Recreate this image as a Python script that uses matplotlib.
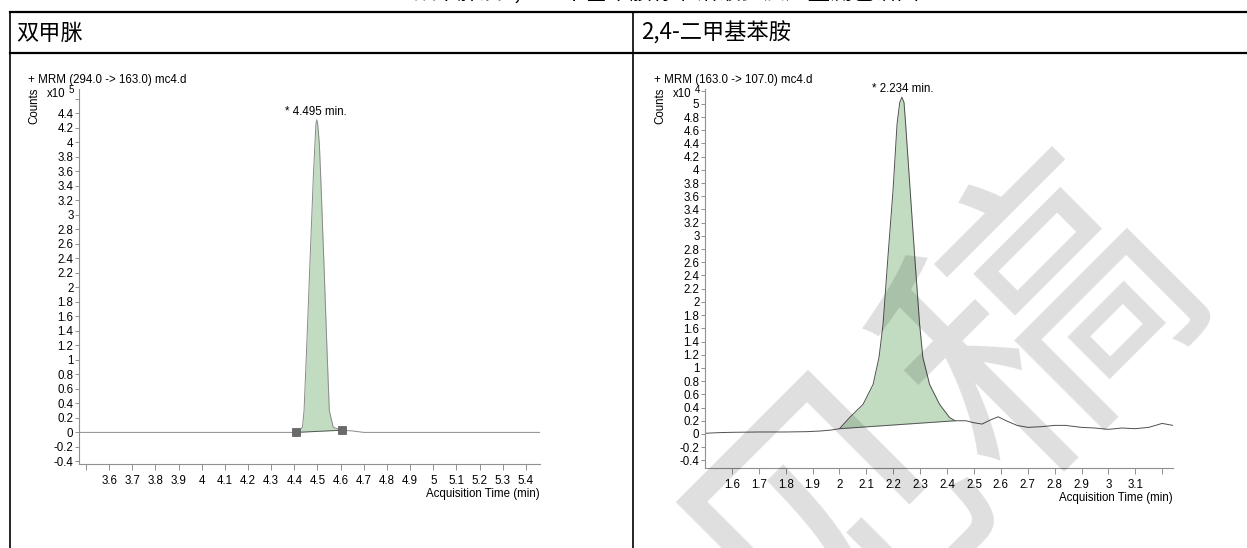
import numpy as np
import matplotlib
matplotlib.use('Agg')
import matplotlib.pyplot as plt
from matplotlib.lines import Line2D

plt.rcParams['font.family'] = ['Liberation Sans', 'DejaVu Sans']

W, H = 1247, 548
FS = 8.3

# ---- data ----
# 双甲脒, MRM 294.0 -> 163.0, counts in x10^5
left_time = [3.47, 4.30, 4.408, 4.435, 4.442, 4.454, 4.465, 4.482, 4.489, 4.493,
             4.497, 4.501, 4.508, 4.514, 4.530, 4.540, 4.551, 4.568, 4.605, 4.65,
             4.70, 5.46]
left_counts = [0.0, 0.0, 0.0, 0.07, 0.30, 1.23, 2.14, 3.52, 3.98, 4.25,
               4.31, 4.25, 3.98, 3.52, 2.14, 1.23, 0.30, 0.07, 0.03, 0.02,
               0.0, 0.0]
left_base_t = [4.408, 4.605]
left_base_c = [0.0, 0.03]
left_rt = 4.495

# 2,4-二甲基苯胺, MRM 163.0 -> 107.0, counts in x10^4
right_time = [1.50, 1.55, 1.60, 1.70, 1.80, 1.88, 1.93, 1.97, 2.00, 2.038,
              2.088, 2.125, 2.147, 2.162, 2.180, 2.199, 2.214, 2.224, 2.232, 2.240,
              2.246, 2.263, 2.280, 2.298, 2.310, 2.335, 2.372, 2.409, 2.43, 2.47,
              2.50, 2.53, 2.56, 2.59, 2.62, 2.66, 2.70, 2.75, 2.80, 2.84,
              2.90, 2.95, 3.00, 3.05, 3.10, 3.15, 3.20, 3.239]
right_counts = [0.01, 0.02, 0.025, 0.03, 0.03, 0.035, 0.045, 0.06, 0.08, 0.25,
                0.45, 0.75, 1.16, 1.66, 2.67, 3.68, 4.69, 5.02, 5.10, 5.02,
                4.69, 3.68, 2.67, 1.66, 1.16, 0.75, 0.45, 0.25, 0.20, 0.20,
                0.17, 0.15, 0.21, 0.26, 0.20, 0.13, 0.10, 0.11, 0.13, 0.13,
                0.10, 0.09, 0.07, 0.09, 0.08, 0.10, 0.16, 0.13]
right_base_t = [2.00, 2.43]
right_base_c = [0.08, 0.20]
right_rt = 2.234

left_xticks = [round(3.5 + 0.1 * i, 1) for i in range(20)]
left_xlabels = [''] + ['%g' % v for v in left_xticks[1:]]
left_yticks = [round(-0.4 + 0.2 * i, 1) for i in range(26)]
left_ylabels = ['%g' % v for v in left_yticks[:-1]] + ['']

right_xticks = [round(1.6 + 0.1 * i, 1) for i in range(17)]
right_xlabels = ['%g' % v for v in right_xticks[:-1]] + ['']
right_yticks = [round(-0.4 + 0.2 * i, 1) for i in range(29)]
right_ylabels = ['%g' % v for v in right_yticks[:-1]] + ['']

fig = plt.figure(figsize=(W / 100, H / 100), dpi=100)


def fx(px):
    return px / W


def fy(py):
    return 1 - py / H


def chromatogram(box, t, c, bt, bc, rt, xlim, ylim, xt, xl, yt, yl,
                 title, expo, line_col, markers):
    x0, y0, x1, y1 = box
    ax = fig.add_axes([fx(x0), fy(y1), fx(x1 - x0), (y1 - y0) / H])
    t = np.array(t)
    c = np.array(c)
    m = (t >= bt[0]) & (t <= bt[1])
    base = np.interp(t[m], bt, bc)
    ax.fill_between(t[m], c[m], base, color='#c2dcc2', lw=0, zorder=1)
    ax.plot(t, c, color=line_col, lw=0.7, zorder=2)
    ax.plot(bt, bc, color='#555555', lw=0.7, zorder=2)
    if markers:
        ax.plot(bt, bc, ls='none', marker='s', ms=6, mfc='#6a6a6a',
                mec='#555555', mew=0.5, zorder=3)
    apex = c.max()
    ax.annotate('* %.3f min.' % rt, (rt, apex), xytext=(0, 1.5),
                textcoords='offset points', ha='center', va='bottom',
                fontsize=FS)
    ax.set_xlim(xlim)
    ax.set_ylim(ylim)
    ax.set_xticks(xt)
    ax.set_xticklabels(xl)
    ax.set_yticks(yt)
    ax.set_yticklabels(yl)
    for s in ['top', 'right']:
        ax.spines[s].set_visible(False)
    for s in ['left', 'bottom']:
        ax.spines[s].set_color('#909090')
        ax.spines[s].set_linewidth(0.8)
    ax.tick_params(axis='both', colors='#909090', labelcolor='black',
                   labelsize=FS, width=0.7)
    ax.tick_params(axis='y', length=3, pad=1)
    ax.tick_params(axis='x', length=4, pad=3.5)
    ax.patch.set_alpha(0)
    ax.text(1.0, -0.062, 'Acquisition Time (min)', transform=ax.transAxes,
            ha='right', va='top', fontsize=FS)
    # header texts
    fig.text(fx(x0 - 51), fy(y0 - 9), title, fontsize=FS, va='center')
    fig.text(fx(x0 - 45), fy(y0 + 17), 'Counts', fontsize=FS, rotation=90,
             va='center', ha='center')
    fig.text(fx(x0 - 32), fy(y0 + 5), 'x10', fontsize=FS, va='center')
    fig.text(fx(x0 - 10), fy(y0 + 0.5), expo, fontsize=7, va='center')
    return ax


chromatogram((79, 89.3, 540, 464.3), left_time, left_counts, left_base_t,
             left_base_c, left_rt, (3.47, 5.461), (-0.44, 4.73),
             left_xticks, left_xlabels, left_yticks, left_ylabels,
             '+ MRM (294.0 -> 163.0) mc4.d', '5', '#8a8a8a', True)

chromatogram((705, 89.3, 1172.7, 468.3), right_time, right_counts,
             right_base_t, right_base_c, right_rt, (1.5, 3.239), (-0.52, 5.22),
             right_xticks, right_xlabels, right_yticks, right_ylabels,
             '+ MRM (163.0 -> 107.0) mc4.d', '4', '#505050', False)

# table grid
for (xa, ya, xb, yb, lw) in [(10, 12, W, 12, 1.6), (10, 53, W, 53, 1.6),
                             (10, 12, 10, H, 1.2), (633, 12, 633, H, 1.2)]:
    fig.add_artist(Line2D([fx(xa), fx(xb)], [fy(ya), fy(yb)], color='black',
                          lw=lw))

cjk = ['Noto Sans CJK SC', 'DejaVu Sans']
fig.text(fx(16), fy(33), '双甲脒', fontsize=16, family=cjk, va='center')
fig.text(fx(641), fy(33), '2,4-二甲基苯胺', fontsize=16, family=cjk,
         va='center')
fig.text(fx(666), fy(-8), '双甲脒及2,4-二甲基苯胺标准溶液多反应监测色谱图',
         fontsize=16, family=cjk, ha='center', va='center')

# watermark
fig.text(fx(1153), fy(222), '征求意见稿', fontsize=210, family=cjk,
         color='black', alpha=0.13, rotation=45, rotation_mode='anchor',
         ha='right', va='center', zorder=10)

fig.savefig('out.png', dpi=100)
